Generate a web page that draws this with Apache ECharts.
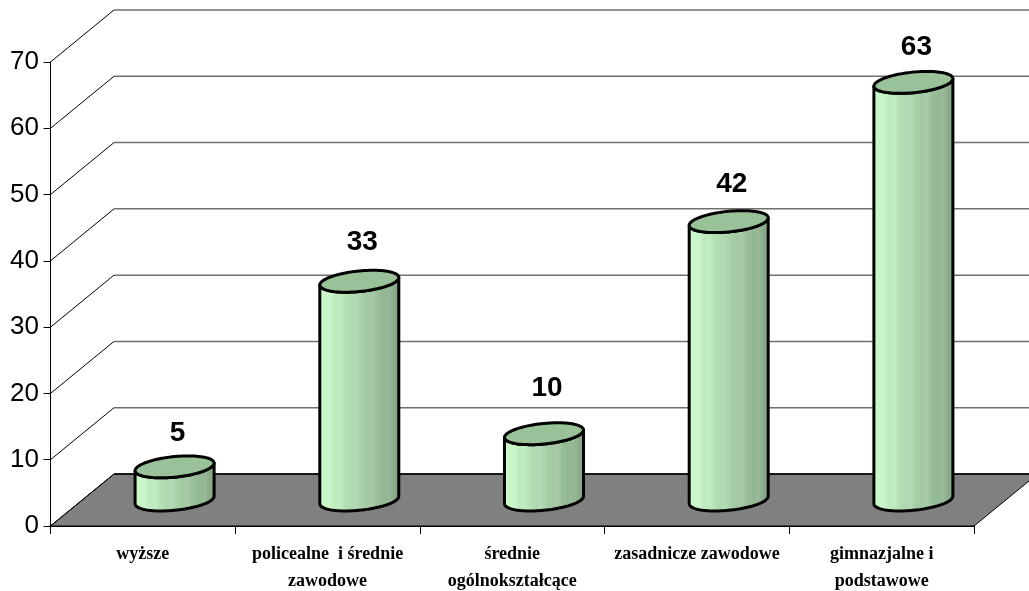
<!DOCTYPE html>
<html><head><meta charset="utf-8">
<style>html,body{margin:0;padding:0;background:#fff}#c{width:1029px;height:591px}</style>
<script src="https://cdn.jsdelivr.net/npm/echarts@6/dist/echarts.min.js"></script>
</head><body><div id="c"></div>
<script>
const categories = ['wyższe','policealne  i średnie\nzawodowe','średnie\nogólnokształcące','zasadnicze zawodowe','gimnazjalne i\npodstawowe'];
const values = [5,33,10,42,63];
const yTicks = [0,10,20,30,40,50,60,70];
const labelLift = [34,39,45,37,35];

const DEPTH_X = 63.5, DEPTH_Y = 52, BAR_W = 79, CAP_B = 3.75, CAP_C = 10.3;
const shades = ['#ccffcc','#c6f8c6','#cdf5cd','#bcebbc','#c2ecc2','#b4e0b4','#b0dab0','#b4d8b4','#a7d0a7','#a2c9a2','#a8c9a8','#98bd98','#93b793','#98b898','#89aa89','#84a484'];
const stops = shades.map((c,i)=>({offset:i/(shades.length-1),color:c}));

function ell(cx,cy,t){const a=BAR_W/2;return [cx+a*Math.cos(t),cy-CAP_B*Math.cos(t)+CAP_C*Math.sin(t)];}
function pathOf(pts,close){return pts.map((p,i)=>(i?'L':'M')+p[0].toFixed(2)+' '+p[1].toFixed(2)).join(' ')+(close?' Z':'');}

function renderWall(params,api){
  const v=api.value(0);
  const p=api.coord([0,v]);
  const left=params.coordSys.x, right=left+params.coordSys.width;
  return {type:'group',children:[
    {type:'line',shape:{x1:left,y1:p[1],x2:left+DEPTH_X,y2:p[1]-DEPTH_Y},style:{stroke:'#000',lineWidth:1},z2:2},
    {type:'line',shape:{x1:left+DEPTH_X,y1:p[1]-DEPTH_Y,x2:right+DEPTH_X,y2:p[1]-DEPTH_Y},style:{stroke:v===0?'#000':'#707070',lineWidth:1.5},z2:2}
  ]};
}
function renderFloor(params,api){
  const y=api.coord([0,0])[1];
  const left=params.coordSys.x, right=left+params.coordSys.width;
  return {type:'polygon',shape:{points:[[left,y],[right,y],[right+DEPTH_X,y-DEPTH_Y],[left+DEPTH_X,y-DEPTH_Y]]},
    style:{fill:'#808080',stroke:'#000',lineWidth:1}};
}
function renderBar(params,api){
  const i=api.value(0), v=api.value(1);
  const base=api.coord([i,0]), top=api.coord([i,v]);
  const cx=base[0]+DEPTH_X/2, by=base[1]-DEPTH_Y/2, ty=top[1]-DEPTH_Y/2;
  const N=48, lowerTop=[], lowerBase=[], full=[];
  for(let k=0;k<=N;k++){const t=Math.PI*k/N;lowerBase.push(ell(cx,by,t));lowerTop.unshift(ell(cx,ty,t));}
  for(let k=0;k<N*2;k++){full.push(ell(cx,ty,Math.PI*k/N));}
  const body=lowerBase.concat(lowerTop);
  return {type:'group',children:[
    {type:'path',shape:{pathData:pathOf(body,true)},z2:5,
      style:{fill:{type:'linear',x:0,y:0,x2:1,y2:0,colorStops:stops},stroke:'#000',lineWidth:3,lineJoin:'round'}},
    {type:'path',shape:{pathData:pathOf(full,true)},z2:6,
      style:{fill:'#99c299',stroke:'#000',lineWidth:3,lineJoin:'round'}},
    {type:'text',x:cx+3,y:ty-labelLift[i],z2:7,
      style:{text:String(v),fill:'#000',font:'bold 28px "Liberation Sans",Arial,sans-serif',textAlign:'center',textVerticalAlign:'middle'}}
  ]};
}

const chart=echarts.init(document.getElementById('c'),null,{renderer:'canvas'});
chart.setOption({
  animation:false,
  backgroundColor:'#fff',
  grid:{left:50.5,right:55,top:62,bottom:65,containLabel:false,outerBoundsMode:'none'},
  xAxis:{type:'category',data:categories,boundaryGap:true,
    axisLine:{show:true,onZero:false,lineStyle:{color:'#000',width:2}},
    axisTick:{show:true,length:8,lineStyle:{color:'#000',width:1}},
    axisLabel:{interval:0,margin:15,color:'#000',fontFamily:'"Liberation Serif","Times New Roman",serif',fontWeight:'bold',fontSize:18,lineHeight:27},
    splitLine:{show:false}},
  yAxis:{type:'value',min:0,max:70,interval:10,
    axisLine:{show:true,lineStyle:{color:'#000',width:1}},
    axisTick:{show:true,length:7,lineStyle:{color:'#000',width:1}},
    axisLabel:{margin:11.5,color:'#000',fontFamily:'"Liberation Sans",Arial,sans-serif',fontSize:26},
    splitLine:{show:false}},
  series:[
    {type:'custom',name:'floor',coordinateSystem:'cartesian2d',data:[[0,0]],renderItem:renderFloor,z:1,silent:true,clip:false},
    {type:'custom',name:'walls',coordinateSystem:'cartesian2d',data:yTicks.map(v=>[v]),encode:{y:0},renderItem:renderWall,z:2,silent:true,clip:false},
    {type:'custom',name:'cylinders',coordinateSystem:'cartesian2d',data:values.map((v,i)=>[i,v]),encode:{x:0,y:1},renderItem:renderBar,z:5,silent:true,clip:false}
  ]
});
</script></body></html>
